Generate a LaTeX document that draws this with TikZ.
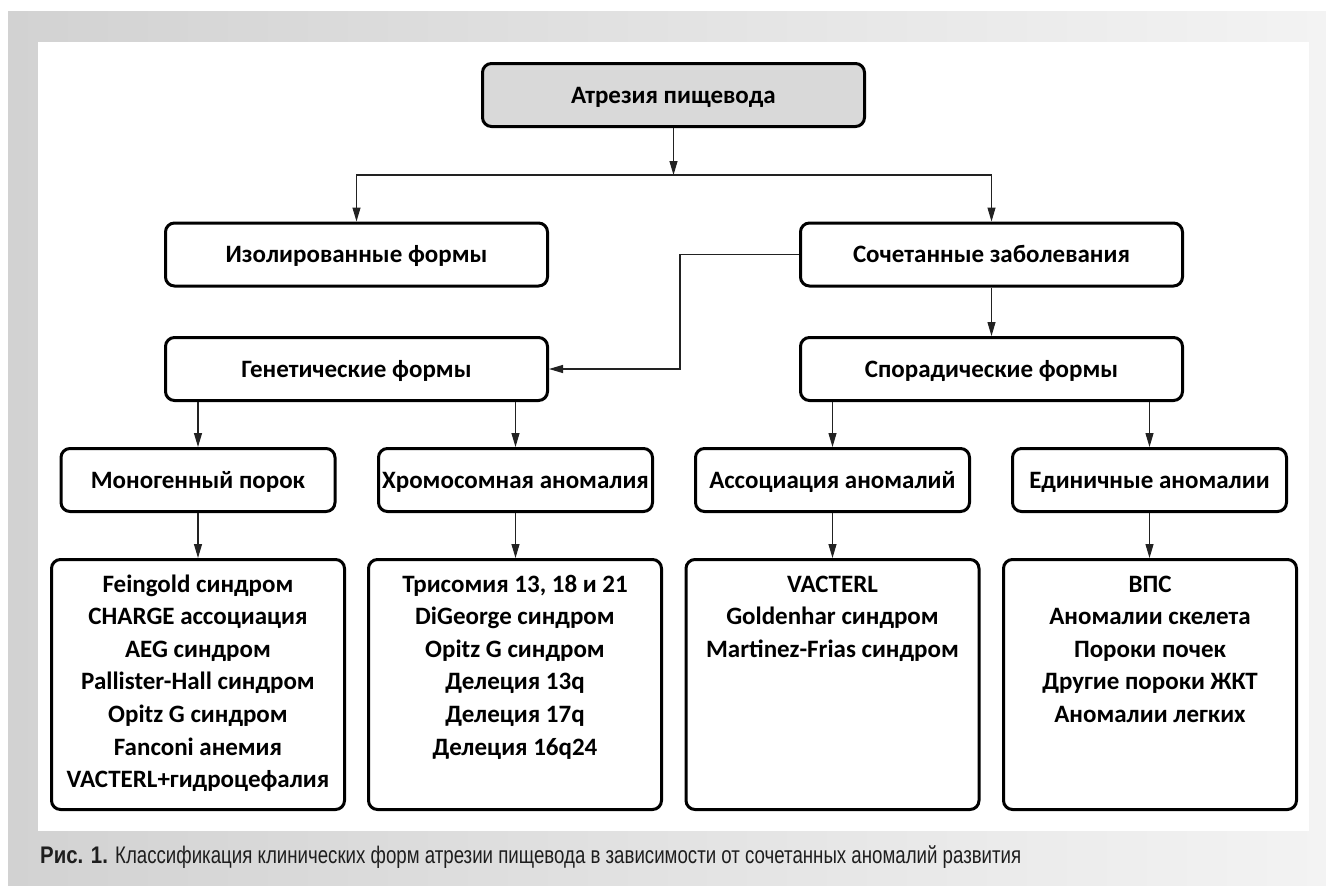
\documentclass[tikz,border=0pt]{standalone}
\usepackage{fontspec}
\setmainfont{Carlito}
\newfontfamily\capfont[FakeStretch=0.778]{Liberation Sans}
\newfontfamily\capbfont[FakeStretch=0.85]{Liberation Sans Bold}
\usetikzlibrary{arrows.meta,calc}
\definecolor{rootgrey}{HTML}{D9D9D9}
\definecolor{frameL}{HTML}{D2D2D2}
\definecolor{frameR}{HTML}{F3F3F3}
\definecolor{capgrey}{HTML}{1E1E1E}
\definecolor{lineg}{HTML}{222222}
\begin{document}
\begin{tikzpicture}[x=1pt,y=-1pt,
  basebox/.style={draw=black, line width=3pt, rounded corners=9pt, fill=white, inner sep=0pt,
    font=\fontsize{25pt}{30pt}\selectfont\bfseries, text height=16pt, text depth=0pt},
  hbox/.style={basebox, minimum width=382pt, minimum height=63pt},
  mbox/.style={basebox, minimum width=274pt, minimum height=63pt},
  lbox/.style={basebox, minimum width=293pt, minimum height=250pt},
  listtext/.style={anchor=base, inner sep=0pt},
  arr/.style={draw=lineg, line width=1.1pt, -{Triangle[length=14pt,width=8pt]}},
  conn/.style={draw=lineg, line width=1.1pt}
]
\useasboundingbox (0,0) rectangle (1326,886);
\shade[left color=frameL, right color=frameR] (8,11) rectangle (1326,886);
\fill[white] (38,42) rectangle (1309,831);

% level 0
\node[hbox, fill=rootgrey] (root) at (673.5,95) {Атрезия пищевода};
% level 1
\node[hbox] (iso) at (356.5,254.5) {Изолированные формы};
\node[hbox] (comb) at (991.5,254.5) {Сочетанные заболевания};
% level 2
\node[hbox] (gen) at (356.5,369) {Генетические формы};
\node[hbox] (spor) at (991.5,369) {Спорадические формы};
% level 3
\node[mbox] (mono) at (198,480) {Моногенный порок};
\node[mbox] (chrom) at (515.5,480) {Хромосомная аномалия};
\node[mbox] (assoc) at (832.5,480) {Ассоциация аномалий};
\node[mbox] (single) at (1149.5,480) {Единичные аномалии};
% level 4
\node[lbox] (b1) at (198,684.5) {};
\node[lbox] (b2) at (515,684.5) {};
\node[lbox] (b3) at (832.5,684.5) {};
\node[lbox] (b4) at (1150,684.5) {};

\newcommand{\listfont}{\fontsize{25pt}{32.6pt}\selectfont\bfseries}
\node[listtext] (t1) at ([yshift=-34pt]b1.north) {\begin{minipage}[t]{290pt}\centering\listfont
Feingold синдром\\ CHARGE ассоциация\\ AEG синдром\\ Pallister-Hall синдром\\ Opitz G синдром\\ Fanconi анемия\\ VACTERL+гидроцефалия\end{minipage}};
\node[listtext] (t2) at ([yshift=-34pt]b2.north) {\begin{minipage}[t]{290pt}\centering\listfont
Трисомия 13, 18 и 21\\ DiGeorge синдром\\ Opitz G синдром\\ Делеция 13q\\ Делеция 17q\\ Делеция 16q24\end{minipage}};
\node[listtext] (t3) at ([yshift=-34pt]b3.north) {\begin{minipage}[t]{290pt}\centering\listfont
VACTERL\\ Goldenhar синдром\\ Martinez-Frias синдром\end{minipage}};
\node[listtext] (t4) at ([yshift=-34pt]b4.north) {\begin{minipage}[t]{290pt}\centering\listfont
ВПС\\ Аномалии скелета\\ Пороки почек\\ Другие пороки ЖКТ\\ Аномалии легких\end{minipage}};

% connectors
\coordinate (split) at (673.5,175);
\coordinate (bend) at (680,254.5);
\draw[arr] (root.south) -- (split);
\draw[arr] (split) -| (iso.north);
\draw[arr] (split) -| (comb.north);
\draw[arr] (comb.west) -- (bend) |- (gen.east);
\draw[arr] (comb.south) -- (spor.north);
\draw[arr] (gen.south -| mono.north) -- (mono.north);
\draw[arr] (gen.south -| chrom.north) -- (chrom.north);
\draw[arr] (spor.south -| assoc.north) -- (assoc.north);
\draw[arr] (spor.south -| single.north) -- (single.north);
\draw[arr] (mono.south) -- (mono.south |- b1.north);
\draw[arr] (chrom.south) -- (chrom.south |- b2.north);
\draw[arr] (assoc.south) -- (assoc.south |- b3.north);
\draw[arr] (single.south) -- (single.south |- b4.north);

% caption
\node[anchor=base west, inner sep=0pt, text=capgrey] (cap) at (40,863)
  {\fontsize{24pt}{24pt}\selectfont{\capbfont Рис. 1.} \capfont Классификация клинических форм атрезии пищевода в зависимости от сочетанных аномалий развития};
\end{tikzpicture}
\end{document}
